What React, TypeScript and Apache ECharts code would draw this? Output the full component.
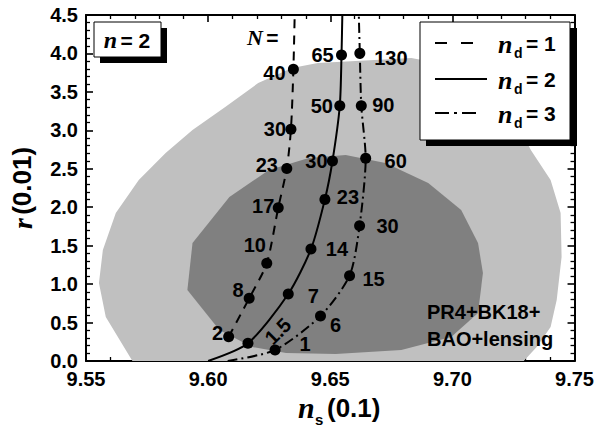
import React, { useEffect, useRef } from "react";
import * as echarts from "echarts";

// ---------- data ----------
// 68% / 95% confidence contours (PR4+BK18+BAO+lensing), n_s in units of 0.1, r in 0.01
const outerNs = [9.569, 9.5581, 9.5553, 9.5569, 9.5622, 9.5716, 9.5826, 9.5936, 9.607, 9.6205, 9.6343, 9.6449, 9.6681, 9.6832, 9.6983, 9.7146, 9.7247, 9.7321, 9.7402, 9.7443, 9.7447, 9.7427, 9.7402, 9.7345, 9.7292];
const outerR = [0.0, 0.572, 1.014, 1.443, 1.925, 2.354, 2.705, 3.004, 3.303, 3.615, 3.81, 3.875, 3.914, 3.94, 3.849, 3.589, 3.199, 2.744, 2.354, 1.925, 1.352, 0.793, 0.442, 0.182, 0.0];
const innerNs = [9.5915, 9.6046, 9.618, 9.6319, 9.6522, 9.6791, 9.6995, 9.7105, 9.7125, 9.7105, 9.7036, 9.6901, 9.6726, 9.6563, 9.6412, 9.6249, 9.6087, 9.5936];
const innerR = [0.923, 0.403, 0.182, 0.104, 0.091, 0.143, 0.312, 0.624, 1.144, 1.534, 1.964, 2.315, 2.575, 2.679, 2.64, 2.484, 2.133, 1.534];

// n_d = 1 (dashed)
const nd1Ns = [9.6084, 9.6168, 9.624, 9.6287, 9.6322, 9.6339, 9.6349];
const nd1R = [0.316, 0.815, 1.27, 1.994, 2.505, 3.013, 3.793];
const nd1N = ["2", "8", "10", "17", "23", "30", "40"];
const nd1Top = [9.6355, 4.6];

// n_d = 2 (solid)
const nd2Start = [9.6, 0.0];
const nd2Ns = [9.6163, 9.6328, 9.6421, 9.6478, 9.6509, 9.6539, 9.6546];
const nd2R = [0.23, 0.871, 1.456, 2.102, 2.601, 3.32, 3.979];
const nd2N = ["1.5", "7", "14", "23", "30", "50", "65"];
const nd2Top = [9.655, 4.6];

// n_d = 3 (dash-dot)
const nd3Start = [9.608, 0.0];
const nd3Ns = [9.6274, 9.646, 9.6579, 9.662, 9.6645, 9.6627, 9.6621];
const nd3R = [0.143, 0.585, 1.11, 1.759, 2.636, 3.32, 4.001];
const nd3N = ["1", "6", "15", "30", "60", "90", "130"];
const nd3Top = [9.6616, 4.6];

const xTicks = { min: 9.55, max: 9.75, step: 0.05 };
const yTicks = { min: 0, max: 4.5, step: 0.5 };

// label placement (pixel offsets of label centre from the marker)
const nd1LabelOff = [[-11, -4], [-11, -8], [-12, -18], [-15, -2], [-20, -3], [-16, 0], [-19, 4]];
const nd2LabelOff = [[30, -12], [25, 2], [26, 0], [23, -2], [-16, 0], [-18, 0], [-19, 0]];
const nd3LabelOff = [[30, -6], [15, 9], [24, 3], [28, 0], [30, 3], [22, -1], [31, 5]];

const SANS = "'Liberation Sans', Arial, Helvetica, sans-serif";
const SERIF = "'Liberation Serif', 'Times New Roman', serif";

const DASH = [9, 7];
const DASHDOT = [10, 4, 2, 4];
const MARK = 11;

function App() {
  const ref = useRef<HTMLDivElement>(null);

  useEffect(() => {
    if (!ref.current) return;
    const chart = echarts.init(ref.current, null, { renderer: "svg" });

    const polygon = (xs: number[], ys: number[], color: string, z: number) => ({
      type: "custom",
      coordinateSystem: "cartesian2d",
      xAxisIndex: 0,
      yAxisIndex: 0,
      silent: true,
      z,
      data: [[xs[0], ys[0]]],
      renderItem: (_p: any, api: any) => ({
        type: "polygon",
        shape: { points: xs.map((x, i) => api.coord([x, ys[i]])) },
        style: { fill: color, stroke: "none" },
      }),
    });

    const curve = (pts: number[][], type: any, z: number) => ({
      type: "line",
      xAxisIndex: 0,
      yAxisIndex: 0,
      data: pts,
      symbol: "none",
      smooth: 0.25,
      silent: true,
      z,
      lineStyle: { color: "#000", width: 2, type, opacity: 1 },
    });

    const markers = (xs: number[], ys: number[], names: string[], offs: number[][], rot: number[] | null, z: number) => ({
      type: "scatter",
      xAxisIndex: 0,
      yAxisIndex: 0,
      symbol: "circle",
      symbolSize: MARK,
      silent: true,
      z,
      itemStyle: { color: "#000", opacity: 1 },
      data: xs.map((x, i) => ({
        value: [x, ys[i]],
        label: {
          show: true,
          formatter: names[i],
          position: [MARK / 2 + offs[i][0], MARK / 2 + offs[i][1]],
          align: "center",
          verticalAlign: "middle",
          rotate: rot ? rot[i] : 0,
          color: "#000",
          opacity: 1,
          textBorderWidth: 0,
          fontFamily: SANS,
          fontWeight: "bold",
          fontSize: 20,
        },
      })),
    });

    const pts = (xs: number[], ys: number[]) => xs.map((x, i) => [x, ys[i]]);

    const axisCommon = {
      type: "value",
      axisLine: { show: true, onZero: false, lineStyle: { color: "#000", width: 2 } },
      axisTick: { show: true, inside: true, length: 7, lineStyle: { color: "#000", width: 1.6 } },
      minorTick: { show: true, splitNumber: 5, length: 4, lineStyle: { color: "#000", width: 1.3 } },
      splitLine: { show: false },
      minorSplitLine: { show: false },
    };

    const option: any = {
      animation: false,
      backgroundColor: "#fff",
      grid: { left: 86, top: 15, width: 491, height: 346, containLabel: false },
      xAxis: [
        {
          ...axisCommon,
          position: "bottom",
          min: xTicks.min,
          max: xTicks.max,
          interval: xTicks.step,
          axisLabel: {
            color: "#000",
            fontFamily: SANS,
            fontWeight: "bold",
            fontSize: 20,
            lineHeight: 18,
            margin: 9,
            formatter: (v: number) => v.toFixed(2),
          },
        },
        {
          ...axisCommon,
          position: "top",
          min: xTicks.min,
          max: xTicks.max,
          interval: xTicks.step,
          axisLabel: { show: false },
        },
      ],
      yAxis: [
        {
          ...axisCommon,
          position: "left",
          min: yTicks.min,
          max: yTicks.max,
          interval: yTicks.step,
          axisLabel: {
            color: "#000",
            fontFamily: SANS,
            fontWeight: "bold",
            fontSize: 20,
            lineHeight: 18,
            margin: 8,
            formatter: (v: number) => v.toFixed(1),
          },
        },
        {
          ...axisCommon,
          position: "right",
          min: yTicks.min,
          max: yTicks.max,
          interval: yTicks.step,
          axisLabel: { show: false },
        },
      ],
      series: [
        polygon(outerNs, outerR, "#c0c0c0", 1),
        polygon(innerNs, innerR, "#808080", 2),
        curve([...pts(nd1Ns, nd1R), nd1Top], DASH, 3),
        curve([nd2Start, ...pts(nd2Ns, nd2R), nd2Top], "solid", 3),
        curve([nd3Start, ...pts(nd3Ns, nd3R), nd3Top], DASHDOT, 3),
        markers(nd1Ns, nd1R, nd1N, nd1LabelOff, null, 4),
        markers(nd2Ns, nd2R, nd2N, nd2LabelOff, [45, 0, 0, 0, 0, 0, 0], 4),
        markers(nd3Ns, nd3R, nd3N, nd3LabelOff, null, 4),
      ],
      graphic: [
        // n = 2 box
        { type: "rect", z: 100, shape: { x: 100, y: 28, width: 67, height: 35 }, style: { fill: "#000" } },
        { type: "rect", z: 101, shape: { x: 94, y: 22, width: 67, height: 35 }, style: { fill: "#fff", stroke: "#000", lineWidth: 1 } },
        {
          type: "text", z: 102, x: 127, y: 40,
          style: {
            text: "{i|n} {b|= 2}", align: "center", verticalAlign: "middle",
            rich: {
              i: { fontFamily: SERIF, fontStyle: "italic", fontWeight: "bold", fontSize: 24, fill: "#000" },
              b: { fontFamily: SANS, fontWeight: "bold", fontSize: 21, fill: "#000" },
            },
          },
        },
        // N =
        {
          type: "text", z: 102, x: 247, y: 37,
          style: {
            text: "{i|N} {b|=}", align: "left", verticalAlign: "middle",
            rich: {
              i: { fontFamily: SERIF, fontStyle: "italic", fontWeight: "bold", fontSize: 22, fill: "#000" },
              b: { fontFamily: SANS, fontWeight: "bold", fontSize: 21, fill: "#000" },
            },
          },
        },
        // legend box
        { type: "rect", z: 100, shape: { x: 426, y: 28, width: 151, height: 118 }, style: { fill: "#000" } },
        { type: "rect", z: 101, shape: { x: 420, y: 22, width: 150, height: 118 }, style: { fill: "#fff", stroke: "#000", lineWidth: 1 } },
        { type: "line", z: 102, shape: { x1: 435, y1: 43, x2: 475, y2: 43 }, style: { stroke: "#000", lineWidth: 2, lineDash: [12, 14] } },
        { type: "line", z: 102, shape: { x1: 435, y1: 79, x2: 487, y2: 79 }, style: { stroke: "#000", lineWidth: 2 } },
        { type: "line", z: 102, shape: { x1: 435, y1: 113, x2: 481, y2: 113 }, style: { stroke: "#000", lineWidth: 2, lineDash: [14, 5, 3, 5] } },
        ...["1", "2", "3"].flatMap((k, i) => {
          const y = [43, 79, 113][i];
          return [
            { type: "text", z: 102, x: 498, y: y + 1, style: { text: "n", verticalAlign: "middle", fontFamily: SERIF, fontStyle: "italic", fontWeight: "bold", fontSize: 26, fill: "#000" } },
            { type: "text", z: 102, x: 514, y: y + 10, style: { text: "d", verticalAlign: "middle", fontFamily: SANS, fontWeight: "bold", fontSize: 14, fill: "#000" } },
            { type: "text", z: 102, x: 526, y: y, style: { text: "= " + k, verticalAlign: "middle", fontFamily: SANS, fontWeight: "bold", fontSize: 21, fill: "#000" } },
          ];
        }),
        // dataset annotation
        {
          type: "text", z: 102, x: 427, y: 298,
          style: { text: "PR4+BK18+\nBAO+lensing", lineHeight: 27, verticalAlign: "top", fontFamily: SANS, fontWeight: "bold", fontSize: 20, fill: "#000" },
        },
        // x axis name
        { type: "text", z: 102, x: 298, y: 407, style: { text: "n", verticalAlign: "middle", fontFamily: SERIF, fontStyle: "italic", fontWeight: "bold", fontSize: 30, fill: "#000" } },
        { type: "text", z: 102, x: 315, y: 419, style: { text: "s", verticalAlign: "middle", fontFamily: SANS, fontWeight: "bold", fontSize: 15, fill: "#000" } },
        { type: "text", z: 102, x: 327, y: 408, style: { text: "(0.1)", verticalAlign: "middle", fontFamily: SANS, fontWeight: "bold", fontSize: 26, fill: "#000" } },
        // y axis name
        {
          type: "text", z: 102, x: 22, y: 188, rotation: Math.PI / 2,
          style: {
            text: "{i|r} {b|(0.01)}", align: "center", verticalAlign: "middle",
            rich: {
              i: { fontFamily: SERIF, fontStyle: "italic", fontWeight: "bold", fontSize: 28, fill: "#000" },
              b: { fontFamily: SANS, fontWeight: "bold", fontSize: 26, fill: "#000" },
            },
          },
        },
      ],
    };

    chart.setOption(option);
    return () => chart.dispose();
  }, []);

  return <div ref={ref} style={{ width: 597, height: 427, position: "absolute", left: 0, top: 0 }} />;
}

export default App;
